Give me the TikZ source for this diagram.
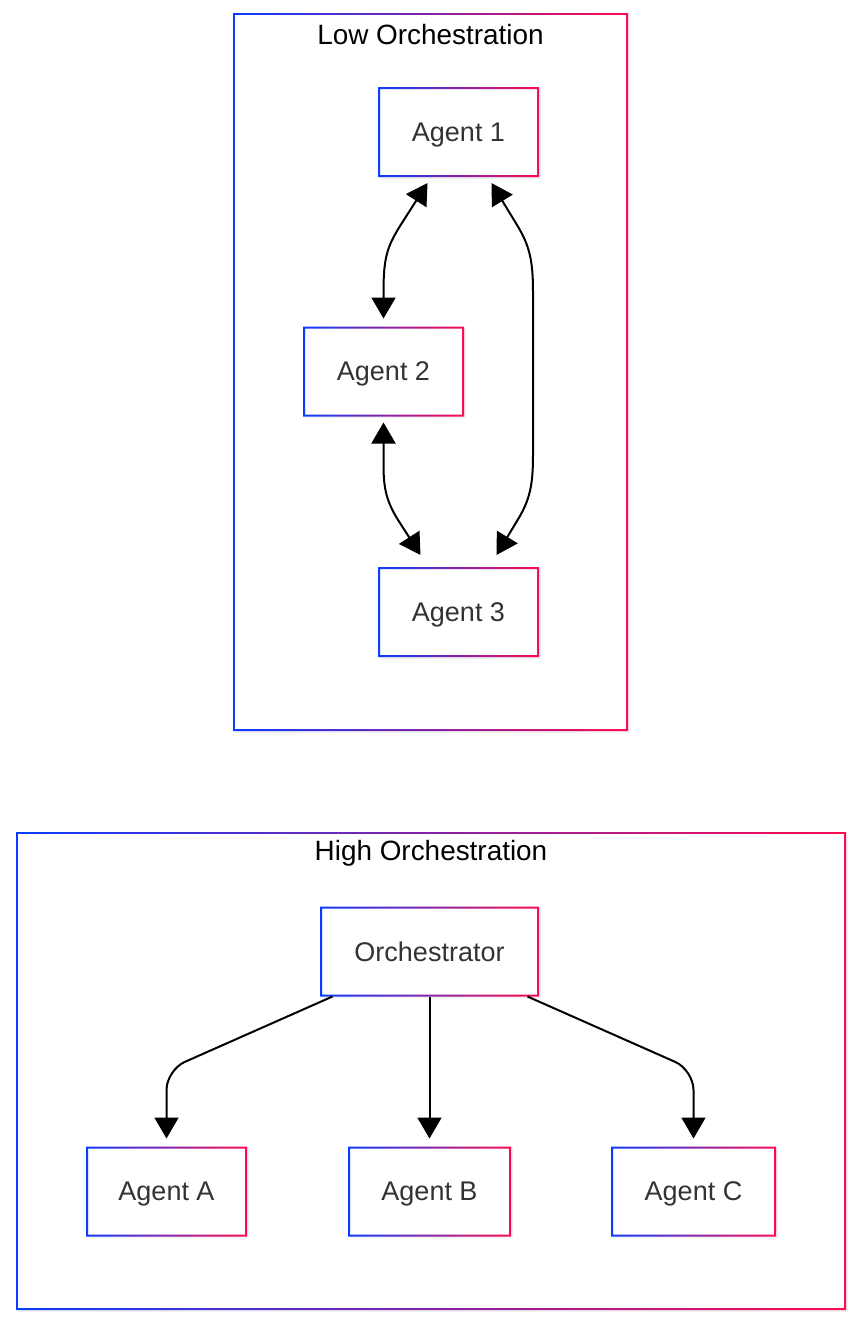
\documentclass[tikz,border=0pt]{standalone}
\usepackage{fontspec}
\setmainfont{Liberation Sans}
\usetikzlibrary{arrows.meta,positioning,shadows}
\definecolor{gradblue}{HTML}{0A3CFF}
\definecolor{gradred}{HTML}{FF0A50}
\definecolor{nodetext}{HTML}{333333}

\newcommand{\gradframe}[2][2]{%
  \shade[even odd rule, left color=gradblue, right color=gradred]
    (#2.south west) rectangle (#2.north east)
    ([shift={(#1,-#1)}]#2.south west) rectangle ([shift={(-#1,#1)}]#2.north east);}

\begin{document}
\begin{tikzpicture}[
  x=1pt, y=-1pt,
  font=\fontsize{27}{32}\selectfont,
  agent/.style={fill=white, text=nodetext, minimum width=161pt, minimum height=90pt, inner sep=0pt, outer sep=0pt,
    text depth=0pt, drop shadow={shadow xshift=1.5pt, shadow yshift=-1.5pt, opacity=0.12}},
  group/.style={fill=white, inner sep=0pt, outer sep=0pt,
    drop shadow={shadow xshift=1.5pt, shadow yshift=-1.5pt, opacity=0.1}},
  title/.style={text=black, font=\fontsize{27.9}{32}\selectfont},
  arr/.style={-{Triangle[length=21pt,width=24pt]}, line width=2pt},
  biarr/.style={{Triangle[length=21pt,width=24pt]}-{Triangle[length=21pt,width=24pt]}, line width=2pt}
]
\useasboundingbox (0,0) rectangle (862,1331);

\node[group, minimum width=395pt, minimum height=718pt] (lowgroup) at (430.5,372) {};
\node[title] (lowtitle) at ([yshift=-21.5pt]lowgroup.north) {Low Orchestration};
\node[agent] (agent1) at (458.5,132) {Agent 1};
\node[agent] (agent2) at (383.5,371.5) {Agent 2};
\node[agent, below=390pt of agent1] (agent3) {Agent 3};

\node[group, minimum width=830pt, minimum height=478pt] (highgroup) at (431,1071) {};
\node[title] (hightitle) at ([yshift=-21.5pt]highgroup.north) {High Orchestration};
\node[agent, minimum width=219pt] (orch) at (429.5,951.5) {Orchestrator};
\node[agent, minimum width=163pt, below=150pt of orch] (agentB) {Agent B};
\node[agent, left=101pt of agentB] (agentA) {Agent A};
\node[agent, minimum width=165pt, right=100pt of agentB] (agentC) {Agent C};

\gradframe[1.8]{lowgroup}
\gradframe[1.8]{highgroup}
\gradframe{agent1}
\gradframe{agent2}
\gradframe{agent3}
\gradframe{orch}
\gradframe{agentA}
\gradframe{agentB}
\gradframe{agentC}

\draw[biarr] ([shift={(-31,6)}]agent1.south) -- (400,226)
  .. controls (387,247) and (383.5,258) .. (383.5,292) -- ([shift={(0,-8)}]agent2.north);
\draw[biarr] ([shift={(33,6)}]agent1.south) -- (517,225)
  .. controls (530,246) and (533,262) .. (533,292) -- (533,455)
  .. controls (533,485) and (530,500) .. (517,521) -- ([shift={(38,-12)}]agent3.north);
\draw[biarr] ([shift={(0,6)}]agent2.south) -- (383.5,465)
  .. controls (383.5,490) and (387,503) .. (400,523) -- ([shift={(-38,-12)}]agent3.north);

\draw[arr, rounded corners=20pt] ([xshift=-97pt]orch.south) -- (agentA.north |- 0,1070) -- ([yshift=8pt]agentA.north);
\draw[arr] (orch.south) -- ([yshift=8pt]agentB.north);
\draw[arr, rounded corners=20pt] ([xshift=98pt]orch.south) -- (agentC.north |- 0,1070) -- ([yshift=8pt]agentC.north);
\end{tikzpicture}
\end{document}
